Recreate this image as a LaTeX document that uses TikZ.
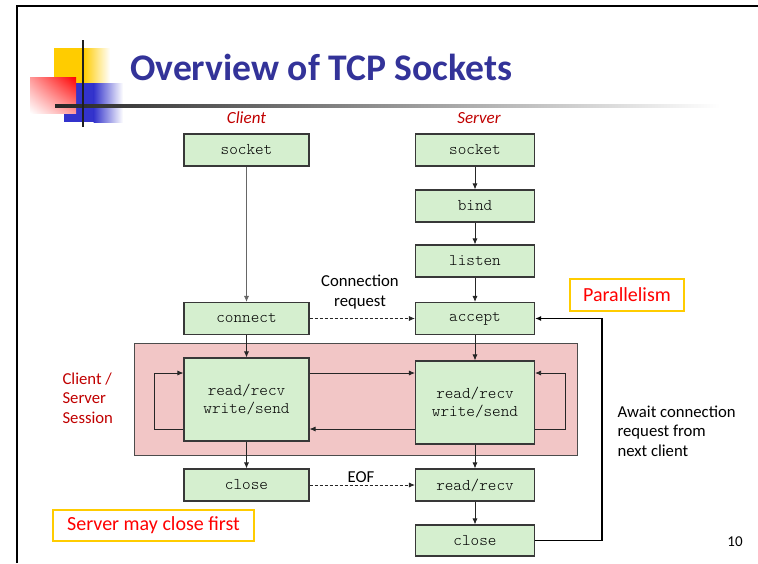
\documentclass[tikz,border=0pt]{standalone}
\usepackage{fontspec}
\setmainfont{Carlito}
\newfontfamily\codefont{Latin Modern Mono Light}
\usetikzlibrary{arrows.meta,shadings}

\definecolor{boxgreen}{RGB}{213,239,207}
\definecolor{sessionpink}{RGB}{242,198,198}
\definecolor{titleblue}{RGB}{51,51,153}
\definecolor{labelred}{RGB}{192,0,0}
\definecolor{notered}{RGB}{255,0,0}
\definecolor{noteyellow}{RGB}{255,204,0}
\definecolor{logoyellow}{RGB}{255,204,0}
\definecolor{logoblue}{RGB}{51,51,204}

\tikzset{
  callbox/.style={draw=black!78, fill=boxgreen, line width=1.1pt, inner sep=0pt,
    minimum height=32pt, font=\codefont\fontsize{16.4}{18}\selectfont, align=center},
  clientcol/.style={callbox, minimum width=125pt},
  servercol/.style={callbox, minimum width=119pt},
  flow/.style={-{Latex[length=6pt,width=5pt]}, line width=0.8pt, draw=black!85},
  dashflow/.style={flow, dash pattern=on 3pt off 2pt},
  plain/.style={font=\fontsize{16.7}{19.5}\selectfont, align=left},
  note/.style={draw=noteyellow, line width=1.4pt, text=notered, inner sep=0pt,
    font=\fontsize{20}{24}\selectfont},
}

\begin{document}
\begin{tikzpicture}[x=1pt,y=-1pt]
\useasboundingbox (0,0) rectangle (758,563);

% slide frame
\draw[line width=2.5pt] (17,563) -- (17,6) -- (758,6);

% logo squares
\fill[logoyellow] (54,48) rectangle (84,83);
\shade[left color=logoyellow, right color=white] (83.5,48) rectangle (110,83);
\fill[logoblue] (64,83) rectangle (94,122);
\shade[left color=logoblue, right color=white] (93.5,83) rectangle (123,122);
\shade[upper right=red, upper left=red!40, lower right=red!40, lower left=white]
  (30,77) rectangle (76,113);
\shade[left color=black!85, right color=white] (55,104.5) rectangle (720,107.5);
\draw[line width=2.6pt, black!88] (83,40) -- (83,127);

% title
\node[anchor=base west, text=titleblue, inner sep=0pt,
  font=\bfseries\fontsize{37.6}{40}\selectfont] (title) at (130,80) {Overview of TCP Sockets};

% column headings
\node[text=labelred, font=\itshape\fontsize{17}{20}\selectfont] (clienthd) at (246.5,118) {Client};
\node[text=labelred, font=\itshape\fontsize{17}{20}\selectfont] (serverhd) at (479,118) {Server};

% session background
\node[draw=black!70, fill=sessionpink, line width=0.9pt, minimum width=443pt,
  minimum height=112pt, inner sep=0pt] (session) at (356,399.5) {};

% calls
\node[clientcol] (csock) at (246.5,150) {socket};
\node[servercol] (ssock) at (475,150) {socket};
\node[servercol] (bind) at (475,206) {bind};
\node[servercol] (listen) at (475,261) {listen};
\node[clientcol] (connect) at (246.5,318.5) {connect};
\node[servercol] (accept) at (475,318.5) {accept};
\node[clientcol, minimum height=83pt] (crw) at (246.5,399.5) {read/recv\\write/send};
\node[servercol, minimum height=83pt] (srw) at (475,402.5) {read/recv\\write/send};
\node[clientcol] (cclose) at (246.5,485) {close};
\node[servercol] (sread) at (475,485) {read/recv};
\node[servercol, minimum height=31pt] (sclose) at (475,540.5) {close};

% client flow
\draw[flow, draw=black!60] (csock) -- (connect);
\draw[flow] (connect) -- (crw);
\draw[flow] (crw) -- (cclose);

% server flow
\draw[flow] (ssock) -- (bind);
\draw[flow] (bind) -- (listen);
\draw[flow] (listen) -- (accept);
\draw[flow] (accept) -- (srw);
\draw[flow] (srw) -- (sread);
\draw[flow] (sread) -- (sclose);

% exchanges between the two sides
\draw[dashflow] (connect) -- (accept);
\draw[dashflow] (cclose) -- (sread);
\draw[flow] (crw.east |- 0,373) -- (srw.west |- 0,373);
\draw[flow] (srw.west |- 0,429) -- (crw.east |- 0,429);

% repeated reads/writes
\draw[flow] (crw.west |- 0,429) -- (154,429) -- (154,373) -- (crw.west |- 0,373);
\draw[flow] (srw.east |- 0,429) -- (565,429) -- (565,373) -- (srw.east |- 0,373);

% back to accept for the next client
\draw[-{Latex[length=6pt,width=5pt]}, line width=1.7pt] (sclose.east) -- (602,540.5) |- (accept.east);

% labels
\node[plain, align=center] (connreq) at (360,292) {Connection\\request};
\node[plain] (eof) at (361,477) {EOF};
\node[plain, anchor=north west, text=labelred] (sesslbl) at (59,369) {Client /\\Server\\Session};
\node[plain, anchor=north west] (await) at (614,402) {Await connection\\request from\\next client};
\node[plain, font=\fontsize{15}{18}\selectfont] (pageno) at (735,542) {10};

% notes
\node[note, minimum width=114pt, minimum height=32pt] (par) at (627,295) {Parallelism};
\node[note, minimum width=201pt, minimum height=31pt] (srvfirst) at (153.5,525.5) {Server may close first};
\end{tikzpicture}
\end{document}
